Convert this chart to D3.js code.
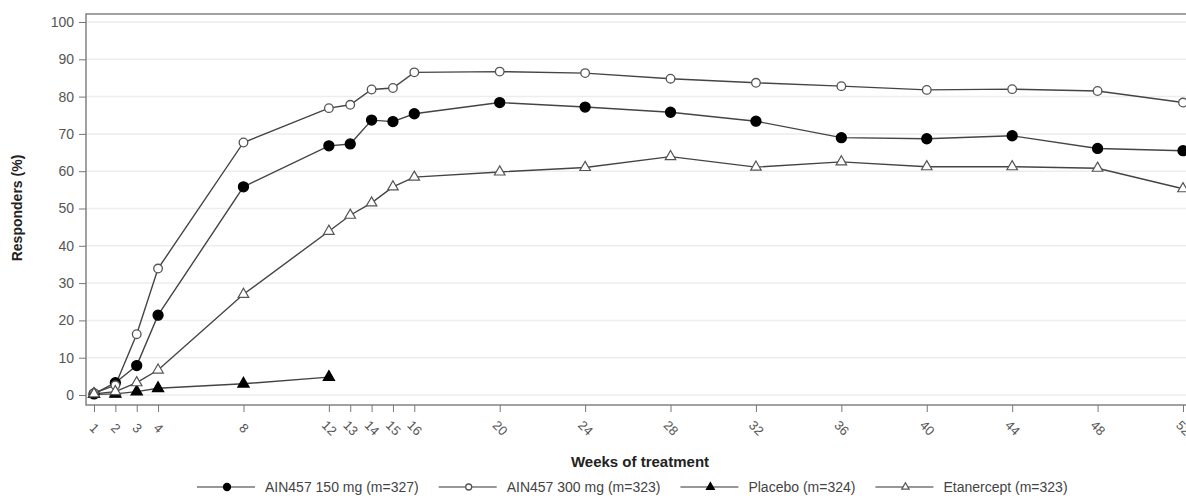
<!DOCTYPE html>
<html>
<head>
<meta charset="utf-8">
<script src="https://cdn.jsdelivr.net/npm/d3@7"></script>
<style>
  body { margin: 0; background: #fff; }
  svg { font-family: "Liberation Sans", Arial, sans-serif; }
</style>
</head>
<body>
<svg id="canvas"></svg>
<script>
var w = 1186;
var h = 496;

var weeks = [1, 2, 3, 4, 8, 12, 13, 14, 15, 16, 20, 24, 28, 32, 36, 40, 44, 48, 52];
var yTicks = [0, 10, 20, 30, 40, 50, 60, 70, 80, 90, 100];
var seriesNames = ["AIN457 150 mg (m=327)", "AIN457 300 mg (m=323)", "Placebo (m=324)", "Etanercept (m=323)"];

var ain150 = [0.3, 3.3, 7.9, 21.4, 55.8, 66.8, 67.3, 73.7, 73.3, 75.4, 78.4, 77.2, 75.8, 73.4, 69.0, 68.7, 69.5, 66.1, 65.5];
var ain300 = [0.5, 2.6, 16.3, 33.9, 67.7, 76.9, 77.8, 81.9, 82.3, 86.5, 86.7, 86.3, 84.8, 83.7, 82.8, 81.8, 82.0, 81.5, 78.4];
var placebo = [0.2, 0.3, 0.9, 1.8, 3.0, 4.8];
var etanercept = [0.3, 0.9, 3.3, 6.7, 27.0, 43.9, 48.2, 51.5, 55.8, 58.4, 59.8, 61.0, 63.9, 61.1, 62.5, 61.2, 61.2, 60.8, 55.3];

var allSeries = [
  { name: seriesNames[0], values: ain150, shape: "circle", filled: true },
  { name: seriesNames[1], values: ain300, shape: "circle", filled: false },
  { name: seriesNames[2], values: placebo, shape: "triangle", filled: true },
  { name: seriesNames[3], values: etanercept, shape: "triangle", filled: false }
];

// plot frame (window.top is reserved, so use other names)
var frameL = 86, frameT = 14, frameB = 405, frameR = 1194;

var svg = d3.select("#canvas")
  .attr("width", w)
  .attr("height", h)
  .attr("viewBox", [0, 0, w, h]);

var x = d3.scaleLinear().domain([1, 52]).range([94, 1183]);
var y = d3.scaleLinear().domain([0, 100]).range([395, 22]);

// faint grid lines
svg.append("g")
  .selectAll("line")
  .data(yTicks)
  .enter()
  .append("line")
  .attr("x1", frameL).attr("x2", frameR)
  .attr("y1", d => y(d)).attr("y2", d => y(d))
  .style("stroke", "#ededed")
  .style("stroke-width", 1.5);

// frame
svg.append("rect")
  .attr("x", frameL).attr("y", frameT)
  .attr("width", frameR - frameL).attr("height", frameB - frameT)
  .style("fill", "none")
  .style("stroke", "#8a8a8a")
  .style("stroke-width", 1.6);

// y axis
var yAxis = svg.append("g")
  .attr("transform", "translate(" + frameL + ",0)")
  .call(d3.axisLeft(y).tickValues(yTicks).tickSize(7).tickPadding(5));
yAxis.select(".domain").remove();
yAxis.selectAll("line").style("stroke", "#777");
yAxis.selectAll("text")
  .style("font-size", "14px")
  .style("fill", "#555");

// x axis
var xAxis = svg.append("g")
  .attr("transform", "translate(0," + frameB + ")")
  .call(d3.axisBottom(x).tickValues(weeks).tickSize(7).tickFormat(d3.format("d")));
xAxis.select(".domain").remove();
xAxis.selectAll("line").style("stroke", "#777");
xAxis.selectAll("text")
  .attr("y", 0)
  .attr("dy", "0.35em")
  .attr("transform", "translate(0,23) rotate(45)")
  .style("text-anchor", "middle")
  .style("font-size", "13px")
  .style("fill", "#555");

// axis titles
svg.append("text")
  .attr("x", 640).attr("y", 467)
  .attr("text-anchor", "middle")
  .style("font-size", "15px")
  .style("font-weight", "bold")
  .style("fill", "#222")
  .text("Weeks of treatment");

svg.append("text")
  .attr("transform", "translate(22,208) rotate(-90)")
  .attr("text-anchor", "middle")
  .style("font-size", "14px")
  .style("font-weight", "bold")
  .style("fill", "#222")
  .text("Responders (%)");

function drawMarker(g, s, cx, cy, scale) {
  var k = scale || 1;
  if (s.shape === "circle") {
    g.append("circle")
      .attr("cx", cx).attr("cy", cy)
      .attr("r", (s.filled ? 5 : 4.3) * k)
      .style("fill", s.filled ? "#000" : "#fff")
      .style("stroke", s.filled ? "#000" : "#555")
      .style("stroke-width", 1.3);
  } else {
    g.append("path")
      .attr("transform", "translate(" + cx + "," + cy + ")")
      .attr("d", d3.symbol().type(d3.symbolTriangle).size((s.filled ? 55 : 48) * k * k)())
      .style("fill", s.filled ? "#000" : "#fff")
      .style("stroke", s.filled ? "#000" : "#555")
      .style("stroke-width", 1.2);
  }
}

var line = d3.line()
  .x((d, i) => x(weeks[i]))
  .y(d => y(d));

var plot = svg.append("g");
allSeries.forEach(function (s) {
  plot.append("path")
    .datum(s.values)
    .attr("d", line)
    .style("fill", "none")
    .style("stroke", "#444")
    .style("stroke-width", 1.4);
});
allSeries.forEach(function (s) {
  var g = plot.append("g");
  s.values.forEach(function (v, i) {
    drawMarker(g, s, x(weeks[i]), y(v));
  });
});

// legend
var legend = svg.append("g");
var lx = 197, ly = 487;
allSeries.forEach(function (s) {
  var item = legend.append("g");
  item.append("line")
    .attr("x1", lx).attr("x2", lx + 58)
    .attr("y1", ly).attr("y2", ly)
    .style("stroke", "#333")
    .style("stroke-width", 1.2);
  drawMarker(item, s, lx + 30, ly, 0.7);
  var t = item.append("text")
    .attr("x", lx + 68).attr("y", ly + 5)
    .style("font-size", "14px")
    .style("fill", "#444")
    .text(s.name);
  lx = lx + 68 + t.node().getComputedTextLength() + 20;
});
</script>
</body>
</html>
